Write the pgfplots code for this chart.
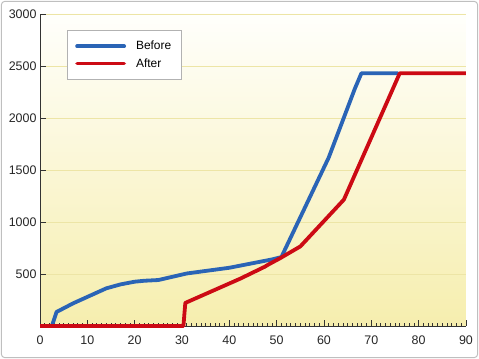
\documentclass[border=0pt]{standalone}
\usepackage{fontspec}
\setmainfont{Liberation Sans}
\usepackage{pgfplots}
\pgfplotsset{compat=1.18}
\definecolor{cblue}{HTML}{2A64B6}
\definecolor{cred}{HTML}{CC0A14}
\definecolor{bgtop}{HTML}{FFFFFC}
\definecolor{bgmid}{HTML}{FBF6D4}
\definecolor{bgbot}{HTML}{F6EEAE}
\definecolor{gridc}{HTML}{EDE5A6}
\definecolor{axc}{HTML}{333333}
\begin{document}
\begin{tikzpicture}
\path[use as bounding box] (-40bp,-33bp) rectangle (439bp,326bp);
\draw[draw=black!25, line width=1bp, rounded corners=3bp] (-38.5bp,-31.5bp) rectangle (437.5bp,324.5bp);
\begin{axis}[
  at={(0,0)}, anchor=south west,
  scale only axis, width=426bp, height=312bp,
  xmin=0, xmax=90, ymin=0, ymax=3000,
  axis x line*=bottom, axis y line*=left,
  axis line style={draw=axc, line width=0.9bp},
  separate axis lines,
  x axis line style={-}, y axis line style={-},
  xtick={0,10,...,90}, ytick={500,1000,...,3000},
  minor x tick num=9,
  tick align=inside,
  major tick length=6bp, minor tick length=3bp,
  tick style={draw=axc, line width=0.8bp},
  ymajorgrids, major grid style={draw=gridc, line width=0.8bp},
  /pgf/number format/assume math mode=true,
  /pgf/number format/1000 sep={},
  tick label style={font=\fontsize{12.5}{14}\selectfont, text=black!85},
  xticklabel style={yshift=-6bp},
  axis background/.style={shade, top color=bgtop, middle color=bgmid, bottom color=bgbot},
  legend style={at={(rel axis cs:0.063,0.949)}, anchor=north west,
    draw=black!30, fill=white, line width=0.8bp,
    font=\fontsize{12}{14}\selectfont, inner xsep=8bp, inner ysep=9bp,
    row sep=3bp,
    /tikz/every odd column/.append style={column sep=8bp}},
  legend cell align=left,
  legend image code/.code={\draw[#1, line cap=round] (0bp,0bp) -- (47bp,0bp);},
  clip=false,
]
\addplot[cblue, line width=3.8bp, line join=round] coordinates {
(0,0) (2.5,0) (3.5,135) (7,218) (10.5,290) (14,362) (17,400) (20,426) (22,435) (25,442)
(31,505) (40,560) (49,640) (51,663) (61,1620) (66.5,2280) (67.9,2430) (75.7,2430)};
\addlegendentry{Before}
\addplot[cred, line width=3.8bp, line join=round] coordinates {
(0,0) (30.3,0) (30.7,222) (42.3,455) (47.5,570) (48.3,592) (50.7,651) (55,765) (64.2,1215) (76,2430) (90,2430)};
\addlegendentry{After}
\end{axis}
\end{tikzpicture}
\end{document}
